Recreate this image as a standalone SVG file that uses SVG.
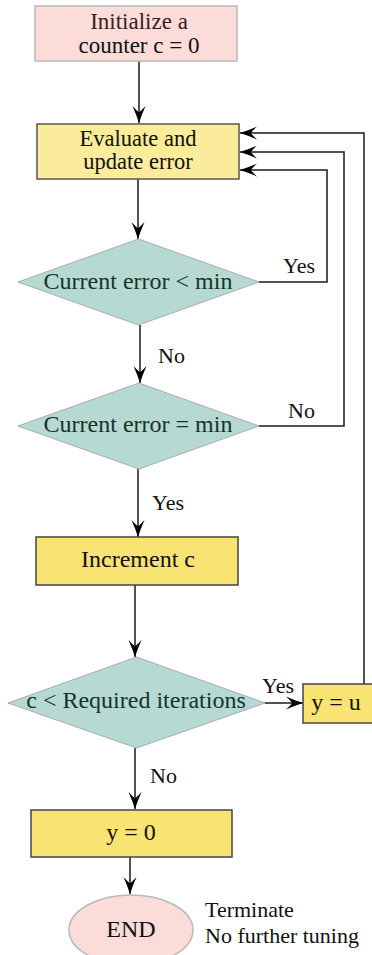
<svg xmlns="http://www.w3.org/2000/svg" width="372" height="955" viewBox="0 0 372 955">
  <style>
    .t { font-family: "Liberation Serif", "Times New Roman", serif; font-size: 24px; text-anchor: middle; fill: #111; }
    .t2 { font-size: 23px; }
    .t3 { font-size: 22.5px; }
    .d { fill: #15322d; }
    .lbl { font-family: "Liberation Serif", "Times New Roman", serif; font-size: 22px; fill: #111; }
    .pink { fill: #fcdcd9; stroke: #b9b9b9; stroke-width: 1.5; }
    .yel1 { fill: #faec9a; stroke: #555; stroke-width: 1.5; }
    .yel2 { fill: #f9e473; stroke: #444; stroke-width: 1.5; }
    .dia { fill: #b6d9d1; stroke: #aab; stroke-width: 1; }
    .wire { fill: none; stroke: #1a1a1a; stroke-width: 1.5; }
  </style>
  <defs>
    <marker id="arr" markerUnits="userSpaceOnUse" markerWidth="20" markerHeight="16" viewBox="-18 -8 19 16" refX="0" refY="0" orient="auto">
      <path d="M0,0 Q-8,-2.5 -17,-6.5 Q-11,-1 -11,0 Q-11,1 -17,6.5 Q-8,2.5 0,0 Z" fill="#000"/>
    </marker>
  </defs>

  <!-- connectors -->
  <g id="connectors">
    <path class="wire" d="M139,61 V123" marker-end="url(#arr)"/>
    <path class="wire" d="M138,179 V239" marker-end="url(#arr)"/>
    <path class="wire" d="M140,325 V383" marker-end="url(#arr)"/>
    <path class="wire" d="M138,469 V537" marker-end="url(#arr)"/>
    <path class="wire" d="M135,585 V657" marker-end="url(#arr)"/>
    <path class="wire" d="M135,748 V809" marker-end="url(#arr)"/>
    <path class="wire" d="M130,857 V894" marker-end="url(#arr)"/>
    <path class="wire" d="M259,282 H327 V170 H240" marker-end="url(#arr)"/>
    <path class="wire" d="M259,426 H344 V152 H240" marker-end="url(#arr)"/>
    <path class="wire" d="M364,684 V133 H240" marker-end="url(#arr)"/>
    <path class="wire" d="M265,703 H303" marker-end="url(#arr)"/>
    <text class="lbl" x="283" y="273">Yes</text>
    <text class="lbl" x="158" y="363">No</text>
    <text class="lbl" x="288" y="418">No</text>
    <text class="lbl" x="152" y="510">Yes</text>
    <text class="lbl" x="262" y="693">Yes</text>
    <text class="lbl" x="150" y="783">No</text>
  </g>

  <g id="init">
    <rect class="pink" x="35" y="6" width="202" height="55"/>
    <text class="t t2" x="139" y="29" style="fill:#3a1e1e">Initialize a</text>
    <text class="t t2" x="139" y="53">counter c = 0</text>
  </g>

  <g id="evaluate">
    <rect class="yel1" x="37" y="124" width="202" height="55"/>
    <text class="t t3" x="138" y="146">Evaluate and</text>
    <text class="t t3" x="138" y="169">update error</text>
  </g>

  <g id="check-less">
    <polygon class="dia" points="138.5,239 259,282 138.5,325 18,282"/>
    <text class="t d" x="138" y="289">Current error &lt; min</text>
  </g>

  <g id="check-equal">
    <polygon class="dia" points="139,383 259,426 139,469 18,426"/>
    <text class="t d" x="138" y="432">Current error = min</text>
  </g>

  <g id="increment">
    <rect class="yel2" x="36" y="537" width="202" height="48"/>
    <text class="t" x="138" y="567">Increment c</text>
  </g>

  <g id="check-iterations">
    <polygon class="dia" points="136.5,657 265,703 136.5,748 8,703"/>
    <text class="t d" x="136" y="708">c &lt; Required iterations</text>
  </g>

  <g id="set-u">
    <rect class="yel2" x="303" y="684" width="75" height="39"/>
    <text class="t" x="336" y="710">y = u</text>
  </g>

  <g id="set-zero">
    <rect class="yel2" x="31" y="810" width="201" height="47"/>
    <text class="t" x="131" y="840">y = 0</text>
  </g>

  <g id="end">
    <ellipse class="pink" cx="131" cy="930" rx="62" ry="35"/>
    <text class="t" x="131" y="937">END</text>
    <text class="lbl" x="205" y="917">Terminate</text>
    <text class="lbl" x="205" y="943">No further tuning</text>
  </g>
</svg>
